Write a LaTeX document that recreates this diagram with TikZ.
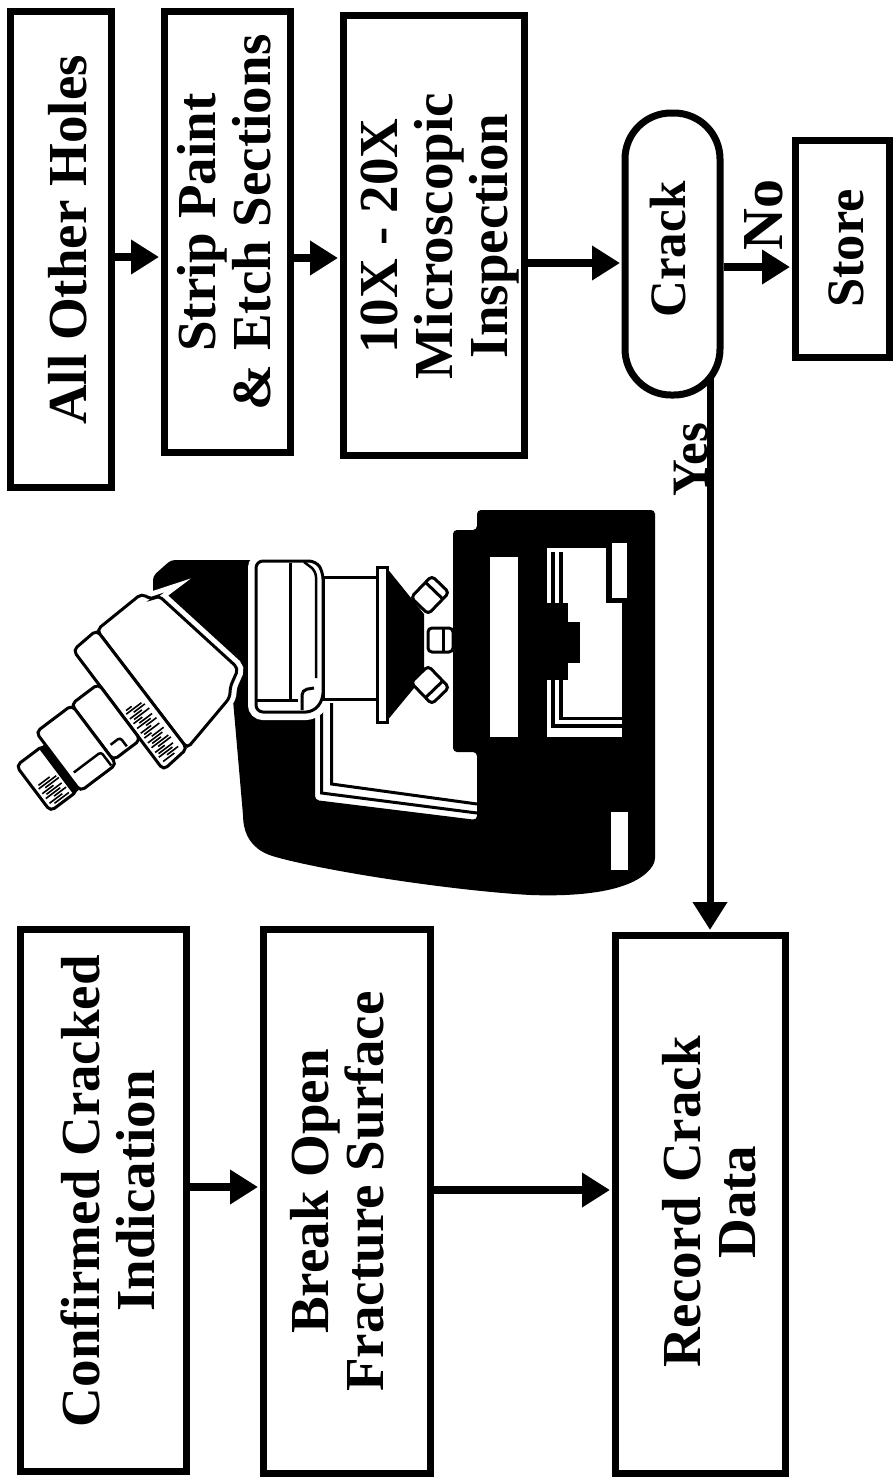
\documentclass[tikz,border=0pt]{standalone}
\usepackage{fontspec}
\setmainfont{Liberation Serif}
\usepackage{graphicx}
\usetikzlibrary{arrows.meta}

% stacked, rotated label text
\newcommand\flowtext[1]{\rotatebox{90}{\begin{tabular}{@{}c@{}}#1\end{tabular}}}

\tikzset{
  stepbox/.style={draw=black, line width=7pt, fill=white, inner sep=0pt},
  decision/.style={stepbox, rounded corners=46pt},
  boxtext/.style={inner sep=0pt, font=\fontsize{55}{55}\selectfont\bfseries},
  flow/.style={line width=8pt, -{Triangle[length=28pt,width=33pt]}, shorten >=1.5pt},
  answer/.style={inner sep=0pt, rotate=90, anchor=base, font=\fontsize{58}{60}\selectfont\bfseries},
  part/.style={draw=black, fill=white, line width=3pt, rounded corners=5pt},
  halo/.style={preaction={draw=white, line width=#1}},
  thin/.style={draw=black, line width=3pt},
}

\begin{document}
\begin{tikzpicture}[x=1pt, y=-1pt]
\useasboundingbox (0,0) rectangle (893,1478);
\fill[white] (0,0) rectangle (893,1478);

% ---------------- microscope ----------------
% stand: arm, window and base in one black piece
\fill[black, rounded corners=4pt] (153,600) -- (153,576) -- (171,560) -- (300,560)
  -- (315,700) -- (315,800) -- (477,820) -- (477,752) -- (453,752) -- (453,530)
  -- (477,530) -- (477,510) -- (655,510) -- (655,862)
  .. controls (640,886) and (600,897) .. (530,895)
  .. controls (450,890) and (330,872) .. (272,856)
  .. controls (252,848) and (244,835) .. (243,815) -- (233,700) -- cycle;
% double lines round the window
\draw[thin] (321.5,703) -- (321.5,793) -- (477,813);
\draw[thin] (331.5,703) -- (331.5,784) -- (477,804);

% base details
\fill[white] (490,557) rectangle (518,737);
\fill[white] (547,548) rectangle (622,737);
\draw[black, line width=4pt] (553,552) -- (553,726) -- (622,726);
\draw[black, line width=3.5pt] (561,552) -- (561,718.5) -- (622,718.5);
\fill[black] (547,603) rectangle (568,680);
\fill[black] (568,622) rectangle (580,663);
\fill[black] (606,545) rectangle (622,603);
\fill[white] (612,543) rectangle (627,598);
\fill[white] (611,812) rectangle (628,870);

% head
\draw[part, rounded corners=7pt, halo=16pt] (256,561) -- (316,561) -- (323,572)
  -- (323,700) -- (313,712) -- (256,712) -- cycle;
\draw[thin] (290,563) -- (290,700);
\draw[thin] (257,700) -- (298,700);
\draw[thin, rounded corners=5pt] (302,710) -- (302,690) -- (314,688);
\draw[line width=2.5pt, rounded corners=6pt] (304,562) -- (316,571) -- (316,678);

% nosepiece tube and turret
\draw[part, rounded corners=0pt] (323,577) rectangle (377,699);
\draw[part, rounded corners=0pt] (377,567) rectangle (387,722);
\fill[black] (386,567) -- (424,614) -- (424,676) -- (386,722) -- cycle;

% objectives
\begin{scope}[shift={(430,595)}, rotate=46]
  \draw[part, rounded corners=4pt] (-15,-12) rectangle (15,12);
  \draw[thin] (6,-12) -- (6,12);
\end{scope}
\begin{scope}[shift={(440.5,640)}]
  \draw[part, rounded corners=4pt] (-12.5,-12) rectangle (12.5,12);
  \draw[thin] (3,-12) -- (3,12);
\end{scope}
\begin{scope}[shift={(430,685)}, rotate=-46]
  \draw[part, rounded corners=4pt] (-15,-12) rectangle (15,12);
  \draw[thin] (6,-12) -- (6,12);
\end{scope}

% binocular eyepiece assembly, drawn along its own axis
\begin{scope}[shift={(96.7,630)}, rotate=37]
  \draw[part, halo=13pt] (0,0) -- (58,-2) -- (62,9) -- (70,9) -- (90,116)
    -- (72,126) -- (66,134) -- (1,149) -- cycle;
  \draw[part] (-31,2) -- (0,0) -- (1,149) -- (-31,152) -- cycle;
  \foreach \t/\a/\b in {82/-25/-18, 85/-27/-8, 88/-20/-6, 91/-27/-12, 94/-24/-5,
      97/-27/-16, 100/-22/-6, 103/-27/-10, 106/-18/-5, 109/-27/-14, 112/-25/-6,
      115/-27/-18, 118/-20/-5, 121/-27/-9, 124/-24/-13, 127/-27/-6, 130/-21/-5,
      133/-27/-15, 136/-25/-7, 139/-27/-10, 142/-19/-5, 145/-26/-12}
    \draw[line width=1.6pt] (\a,\t) -- (\b,\t);
  \draw[part] (-65,44) rectangle (-31,114);
  \draw[line width=2.5pt, rounded corners=3pt] (-58,100) -- (-46,100) -- (-46,111);
  \draw[part] (-110,45) rectangle (-65,119);
  \draw[line width=2.5pt, rounded corners=3pt] (-104,100) -- (-70,100) -- (-70,117);
  \draw[part] (-146,60) rectangle (-112,117);
  \draw[line width=7pt] (-114,60) -- (-114,117);
  \foreach \t/\a/\b in {89/-140/-126, 92/-142/-120, 95/-136/-119, 98/-142/-128,
      101/-139/-120, 104/-142/-124, 107/-134/-119, 110/-142/-126, 113/-138/-120}
    \draw[line width=1.6pt] (\a,\t) -- (\b,\t);
\end{scope}

% ---------------- process boxes ----------------
\node[stepbox, minimum width=101pt, minimum height=476pt] (all) at (60.5,249) {};
\node[boxtext] (allT) at ([shift={(15,-9)}]all.center) {\flowtext{All Other Holes}};

\node[stepbox, minimum width=126pt, minimum height=441pt] (strip) at (227,231.5) {};
\node[boxtext] (stripT) at ([shift={(5,-9)}]strip.center) {\flowtext{Strip Paint\\\& Etch Sections}};

\node[stepbox, minimum width=181pt, minimum height=440pt] (tenx) at (433.5,235) {};
\node[boxtext] (tenxT) at ([shift={(8,1)}]tenx.center) {\flowtext{10X - 20X\\Microscopic\\Inspection}};

\node[decision, minimum width=95pt, minimum height=282pt] (crack) at (672.5,254) {};
\node[boxtext, font=\fontsize{51}{52}\selectfont\bfseries] (crackT) at ([shift={(2.5,-4.5)}]crack.center) {\flowtext{Crack}};

\node[stepbox, minimum width=94pt, minimum height=217pt] (store) at (842,248.5) {};
\node[boxtext, font=\fontsize{52.5}{53}\selectfont\bfseries] (storeT) at ([shift={(11,0)}]store.center) {\flowtext{Store}};

\node[stepbox, minimum width=166pt, minimum height=542pt] (conf) at (103,1200) {};
\node[boxtext] (confT) at ([shift={(13,-9)}]conf.center) {\flowtext{Confirmed Cracked\\Indication}};

\node[stepbox, minimum width=167pt, minimum height=544pt] (brk) at (346.5,1201) {};
\node[boxtext] (brkT) at ([shift={(-1.5,-9.5)}]brk.center) {\flowtext{Break Open\\Fracture Surface}};

\node[stepbox, minimum width=170pt, minimum height=538pt] (rec) at (700,1204) {};
\node[boxtext] (recT) at ([shift={(17,-2)}]rec.center) {\flowtext{Record Crack\\Data}};

% ---------------- connectors ----------------
\coordinate (r1) at (0,257);
\coordinate (r2) at (0,258);
\coordinate (r3) at (0,263);
\coordinate (r4) at (0,267);
\coordinate (r5) at (0,1187);
\coordinate (r6) at (0,1190);
\coordinate (yesTop) at (710,378);

\draw[flow] (all.east |- r1) -- (strip.west |- r1);
\draw[flow] (strip.east |- r2) -- (tenx.west |- r2);
\draw[flow] (tenx.east |- r3) -- (crack.west |- r3);
\draw[flow] (crack.east |- r4) -- (store.west |- r4);
\draw[flow] (conf.east |- r5) -- (brk.west |- r5);
\draw[flow] (brk.east |- r6) -- (rec.west |- r6);
\draw[flow, line width=7pt] (yesTop) -- (rec.north -| yesTop);

\node[answer] (noL) at (782,215) {No};
\node[answer, font=\fontsize{51}{52}\selectfont\bfseries] (yesL) at (707,460) {Yes};

\end{tikzpicture}
\end{document}
